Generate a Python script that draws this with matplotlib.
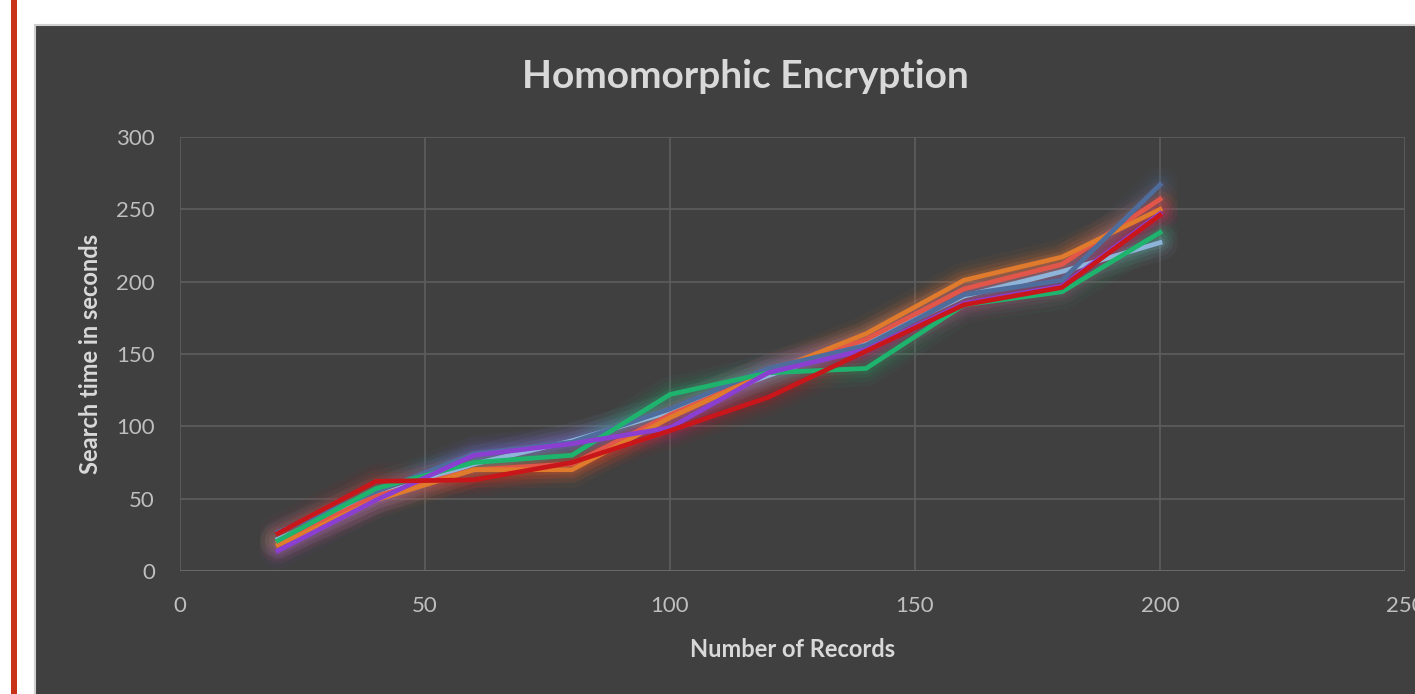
import numpy as np
import matplotlib.pyplot as plt
from matplotlib.patches import Rectangle

# data
records = [20, 40, 60, 80, 100, 120, 140, 160, 180, 200]

light_blue = [22, 52, 74, 90, 110, 135, 158, 190, 207, 227]
coral = [20, 52, 70, 74, 108, 137, 160, 195, 212, 257]
orange = [18, 49, 70, 70, 106, 137, 164, 201, 217, 250]
slate = [27, 55, 81, 89, 112, 140, 156, 191, 201, 267]
green = [21, 57, 75, 80, 122, 137, 140, 184, 193, 234]
purple = [14, 49, 80, 88, 99, 137, 153, 185, 197, 247]
red = [26, 62, 63, 75, 97, 120, 152, 184, 196, 246]

SERIES = [
    (light_blue, "#8fb4d9"),
    (coral, "#e2564a"),
    (orange, "#e07a2c"),
    (slate, "#4f6d9c"),
    (green, "#1fb46e"),
    (purple, "#8a3fd1"),
    (red, "#c8161a"),
]

X_TICKS = [0, 50, 100, 150, 200, 250]
Y_TICKS = [0, 50, 100, 150, 200, 250, 300]

W, H = 1415, 694
BG = "#404040"
TEXT = "#d9d9d9"
TICK_TEXT = "#bfbfbf"
GRID = "#5e5e5e"

plt.rcParams["font.family"] = ["Lato", "DejaVu Sans"]

fig = plt.figure(figsize=(W / 100, H / 100), dpi=100, facecolor="white")

# red bar on the left edge and the dark chart panel
fig.patches.append(Rectangle((11 / W, 0), 6 / W, 1, transform=fig.transFigure,
                             facecolor="#c8321a", edgecolor="none", zorder=-2))
fig.patches.append(Rectangle((35 / W, -0.05), 1.1, 1.05 - 25 / H,
                             transform=fig.transFigure, facecolor=BG,
                             edgecolor="#d0d0d0", linewidth=1.5, zorder=-2))

ax = fig.add_axes([180 / W, 1 - 571 / H, 1225 / W, 434 / H])
ax.set_facecolor(BG)
ax.patch.set_alpha(0)

x = np.array(records)
# soft glow under each line
for ys, color in SERIES:
    for lw, a in [(26, 0.05), (19, 0.07), (13, 0.09), (8, 0.13)]:
        ax.plot(x, ys, color=color, lw=lw, alpha=a, solid_capstyle="round",
                solid_joinstyle="round", zorder=2)
for ys, color in SERIES:
    ax.plot(x, ys, color=color, lw=3.4, solid_joinstyle="round", zorder=3)

ax.set_xlim(0, 250)
ax.set_ylim(0, 300)
ax.set_xticks(X_TICKS)
ax.set_yticks(Y_TICKS)
ax.grid(True, color=GRID, lw=1.2)
ax.set_axisbelow(True)
for s in ax.spines.values():
    s.set_visible(False)
ax.axhline(0, color="#6a6a6a", lw=1.4, zorder=1)
ax.tick_params(length=0, colors=TICK_TEXT, labelsize=16)
ax.tick_params(axis="y", pad=18)
ax.tick_params(axis="x", pad=18)

ax.set_xlabel("Number of Records", color=TEXT, fontsize=17, fontweight="bold",
              labelpad=16)
ax.set_ylabel("Search time in seconds", color=TEXT, fontsize=17,
              fontweight="bold", labelpad=10)

fig.text(745 / W, 1 - 76 / H, "Homomorphic Encryption", color=TEXT,
         fontsize=28, fontweight="bold", ha="center", va="center")

fig.savefig("out.png", dpi=100, facecolor=fig.get_facecolor())
